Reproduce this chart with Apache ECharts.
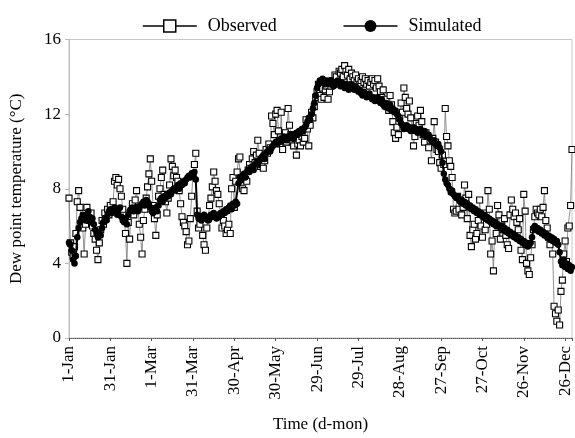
<!DOCTYPE html>
<html>
<head>
<meta charset="utf-8">
<script src="https://cdn.jsdelivr.net/npm/echarts@6/dist/echarts.min.js"></script>
<style>
  html, body { margin: 0; padding: 0; background: #fff; }
  #chart { width: 575px; height: 438px; }
</style>
</head>
<body>
<div id="chart"></div>
<script>
// Daily dew point temperature (°C), day 0 = 1-Jan, 366 days
const tickLabels = ['1-Jan', '31-Jan', '1-Mar', '31-Mar', '30-Apr', '30-May', '29-Jun',
  '29-Jul', '28-Aug', '27-Sep', '27-Oct', '26-Nov', '26-Dec'];

const observed = [
  7.5, 5.1, 4.6, 4.4, 4.9, 5.6, 7.3, 7.9, 7.0, 6.2,
  5.9, 4.5, 6.1, 7.0, 6.6, 6.3, 6.7, 6.0, 5.6, 5.3,
  4.7, 4.2, 5.1, 5.8, 6.3, 6.1, 6.7, 6.4, 6.9, 6.6,
  7.1, 6.8, 7.3, 8.4, 8.6, 8.2, 8.5, 8.0, 7.6, 6.9,
  6.4, 5.6, 4.0, 6.2, 5.3, 6.8, 7.2, 6.6, 7.4, 7.9,
  7.0, 6.1, 5.4, 4.5, 6.3, 6.9, 7.5, 8.1, 8.8, 9.6,
  8.4, 7.1, 6.4, 5.5, 6.6, 7.6, 8.0, 8.6, 9.0, 7.7,
  7.3, 6.7, 7.5, 8.2, 9.6, 9.2, 8.7, 9.0, 8.6, 8.4,
  7.9, 7.2, 6.5, 6.2, 6.0, 5.7, 5.0, 5.2, 6.4, 7.6,
  8.8, 9.3, 9.9, 6.8, 5.9, 6.1, 6.5, 5.5, 5.0, 4.7,
  5.9, 6.4, 7.1, 7.5, 8.1, 8.9, 8.4, 7.9, 7.7, 7.2,
  6.5, 5.9, 6.3, 6.0, 5.6, 5.8, 6.1, 5.6, 8.0, 8.6,
  7.0, 8.4, 8.9, 9.6, 9.7, 8.6, 8.0, 7.9, 8.5, 8.4,
  9.0, 9.3, 9.1, 9.6, 10.0, 9.4, 9.8, 10.6, 9.9, 9.2,
  9.3, 9.1, 9.5, 10.1, 9.9, 10.4, 10.2, 11.9, 11.5, 10.9,
  12.0, 12.2, 11.1, 10.4, 12.1, 10.1, 10.6, 11.0, 10.5, 12.3,
  11.4, 10.9, 10.5, 10.3, 10.7, 9.8, 10.4, 10.6, 10.3, 10.8,
  10.5, 10.7, 11.7, 11.2, 10.3, 11.4, 12.1, 11.8, 12.4, 12.9,
  13.2, 13.6, 13.0, 12.8, 13.4, 12.9, 13.3, 13.5, 12.8, 13.2,
  13.5, 13.8, 13.6, 14.1, 14.0, 13.7, 14.3, 14.2, 14.4, 14.0,
  14.6, 14.3, 14.1, 14.4, 13.9, 14.2, 14.0, 13.8, 14.1, 13.7,
  13.9, 13.6, 13.8, 14.0, 13.7, 13.9, 13.6, 13.8, 13.5, 13.7,
  13.9, 13.6, 13.8, 13.4, 13.9, 13.5, 13.2, 12.9, 13.3, 12.6,
  12.8, 12.4, 12.2, 13.0, 12.5, 11.6, 11.0, 10.7, 11.3, 10.9,
  11.8, 12.6, 12.1, 13.4, 12.9, 12.3, 12.0, 12.7, 11.8, 11.2,
  10.3, 10.8, 11.5, 11.9, 11.4, 12.2, 11.6, 10.9, 10.5, 11.0,
  10.8, 10.2, 10.6, 9.5, 10.7, 11.6, 10.5, 10.1, 10.0, 9.4,
  9.1, 9.8, 9.3, 12.3, 10.8, 10.3, 9.5, 9.2, 8.6, 6.9,
  6.7, 6.8, 7.6, 6.9, 7.4, 6.6, 7.0, 8.2, 7.5, 6.4,
  7.7, 5.5, 4.9, 5.8, 6.1, 5.3, 5.6, 6.3, 7.4, 6.0,
  5.4, 6.7, 5.8, 6.1, 7.9, 6.9, 4.5, 5.2, 3.6, 6.2,
  5.6, 7.1, 6.6, 5.3, 6.0, 5.8, 6.4, 5.5, 5.0, 4.8,
  6.6, 7.4, 6.9, 6.5, 6.7, 6.2, 5.8, 6.4, 4.7, 4.2,
  7.7, 6.8, 4.0, 3.6, 3.4, 4.3, 5.0, 5.8, 6.5, 6.9,
  6.7, 6.6, 6.9, 6.5, 7.0, 7.9, 6.3, 5.9, 5.4, 5.0,
  5.3, 4.5, 1.7, 1.3, 0.9, 1.5, 0.7, 2.5, 3.1, 4.5,
  5.2, 4.1, 5.9, 6.0, 7.1, 10.1
];

const simulated = [
  5.1, 5.0, 4.7, 4.2, 4.0, 4.4, 5.4, 5.9, 6.2, 6.4,
  6.6, 6.5, 6.3, 6.6, 6.8, 6.5, 6.2, 6.4, 6.1, 5.8,
  5.6, 5.4, 5.7, 5.5, 5.9, 6.2, 6.4, 6.3, 6.6, 6.8,
  6.9, 6.7, 6.9, 7.0, 6.8, 6.6, 6.9, 7.0, 6.5, 6.3,
  6.2, 6.4, 6.1, 6.6, 6.8, 6.9, 7.0, 6.8, 6.9, 7.0,
  6.8, 7.0, 7.1, 7.2, 7.3, 7.1, 7.4, 7.3, 7.2, 7.0,
  6.8, 6.7, 6.9, 7.0, 6.8, 7.1, 7.4, 7.5, 7.3, 7.6,
  7.5, 7.7, 7.6, 7.8, 7.7, 7.9, 8.0, 7.9, 8.1, 8.2,
  8.0, 8.3, 8.2, 8.4, 8.3, 8.5, 8.6, 8.7, 8.6, 8.8,
  8.7, 8.9, 8.5, 6.6, 6.4, 6.5, 6.3, 6.5, 6.6, 6.4,
  6.5, 6.3, 6.4, 6.6, 6.5, 6.7, 6.5, 6.4, 6.6, 6.5,
  6.7, 6.6, 6.8, 6.7, 6.9, 6.8, 7.0, 7.1, 6.9, 7.2,
  7.1, 7.3, 7.2, 8.3, 8.6, 8.5, 8.7, 8.8, 8.6, 8.9,
  9.0, 8.9, 9.1, 9.2, 9.0, 9.3, 9.4, 9.3, 9.5, 9.6,
  9.7, 9.8, 9.6, 9.9, 10.0, 10.1, 10.0, 10.2, 10.3, 10.4,
  10.5, 10.4, 10.6, 10.5, 10.7, 10.6, 10.8, 10.7, 10.6, 10.8,
  10.7, 10.9, 10.8, 10.7, 10.9, 11.0, 10.9, 11.1, 11.0, 11.2,
  11.1, 11.3, 11.4, 11.6, 11.8, 11.7, 12.0, 12.3, 12.6, 13.0,
  13.4, 13.6, 13.8, 13.7, 13.9, 13.8, 13.6, 13.8, 13.7, 13.6,
  13.8, 13.7, 13.5, 13.7, 13.6, 13.8, 13.6, 13.5, 13.7, 13.6,
  13.4, 13.6, 13.5, 13.3, 13.5, 13.6, 13.4, 13.3, 13.5, 13.4,
  13.2, 13.3, 13.1, 13.0, 13.2, 13.1, 12.9, 13.0, 13.1, 12.9,
  12.8, 12.9, 12.7, 12.8, 12.9, 12.7, 12.6, 12.8, 12.5, 12.4,
  12.6, 12.4, 12.3, 12.5, 12.2, 12.3, 12.1, 12.2, 12.0, 11.9,
  11.7, 11.5, 11.4, 11.2, 11.3, 11.4, 11.2, 11.3, 11.1, 11.2,
  11.3, 11.1, 11.2, 11.0, 11.1, 11.2, 11.0, 10.9, 11.1, 10.9,
  10.8, 10.9, 10.7, 10.6, 10.5, 10.6, 10.4, 10.3, 10.4, 10.2,
  10.0, 9.4, 8.8, 8.5, 8.3, 8.2, 8.0, 7.8, 7.9, 7.7,
  7.6, 7.5, 7.6, 7.4, 7.3, 7.4, 7.2, 7.3, 7.1, 7.2,
  7.0, 7.1, 6.9, 7.0, 6.8, 6.9, 6.7, 6.8, 6.6, 6.7,
  6.5, 6.6, 6.4, 6.5, 6.3, 6.4, 6.2, 6.3, 6.1, 6.2,
  6.0, 6.1, 6.0, 5.9, 6.0, 5.8, 5.9, 5.7, 5.8, 5.6,
  5.7, 5.5, 5.6, 5.4, 5.5, 5.3, 5.4, 5.2, 5.3, 5.1,
  5.2, 5.0, 5.1, 4.9, 5.0, 5.1, 5.4, 5.9, 6.0, 5.8,
  5.9, 5.7, 5.8, 5.6, 5.7, 5.5, 5.6, 5.4, 5.5, 5.3,
  5.4, 5.2, 5.3, 5.1, 5.2, 5.0, 4.6, 4.1, 3.9, 4.2,
  3.8, 4.0, 3.7, 3.9, 3.6, 3.8
];

const FONT = '"Liberation Serif", "Times New Roman", serif';

const toPairs = arr => arr.map((v, i) => [i, v]);

const chart = echarts.init(document.getElementById('chart'), null, { renderer: 'canvas' });

chart.setOption({
  animation: false,
  backgroundColor: '#fff',
  textStyle: { fontFamily: FONT, color: '#000' },
  legend: {
    left: 137,
    top: 12,
    itemWidth: 54,
    itemHeight: 15,
    itemGap: 66,
    textStyle: { fontFamily: FONT, fontSize: 18, color: '#000', padding: [0, 0, 0, 6] },
    data: [
      { name: 'Observed', lineStyle: { color: '#000', width: 1.5 },
        itemStyle: { color: '#fff', borderColor: '#000', borderWidth: 1.5 } },
      { name: 'Simulated', lineStyle: { color: '#000', width: 1.5 },
        itemStyle: { color: '#000', borderColor: '#000' } }
    ]
  },
  grid: {
    left: 63,
    right: 3,
    top: 39.5,
    bottom: 95.5,
    show: true,
    borderColor: '#c8c8c8',
    borderWidth: 1
  },
  xAxis: {
    type: 'value',
    min: 0,
    max: 365,
    interval: 30,
    name: 'Time (d-mon)',
    nameLocation: 'middle',
    nameGap: 78,
    nameTextStyle: { fontFamily: FONT, fontSize: 17, color: '#000' },
    axisLine: { show: true, lineStyle: { color: '#555', width: 1, type: 'dotted' } },
    axisTick: { show: true, inside: false, length: 3, lineStyle: { color: '#555' } },
    splitLine: { show: false },
    axisLabel: {
      rotate: 90,
      margin: 8,
      fontFamily: FONT,
      fontSize: 17,
      color: '#000',
      formatter: v => (v % 30 === 0 && tickLabels[v / 30]) ? tickLabels[v / 30] : ''
    }
  },
  yAxis: {
    type: 'value',
    min: 0,
    max: 16,
    interval: 4,
    name: 'Dew point temperature (°C)',
    nameLocation: 'middle',
    nameGap: 44,
    nameTextStyle: { fontFamily: FONT, fontSize: 17, color: '#000' },
    axisLine: { show: true, lineStyle: { color: '#bbb', width: 1 } },
    axisTick: { show: true, length: 4, lineStyle: { color: '#bbb' } },
    splitLine: { show: false },
    axisLabel: { fontFamily: FONT, fontSize: 17, color: '#000', margin: 8 }
  },
  series: [
    {
      name: 'Observed',
      type: 'line',
      data: toPairs(observed),
      symbol: 'rect',
      symbolSize: 6,
      showSymbol: true,
      lineStyle: { color: '#777', width: 0.8 },
      itemStyle: { color: '#fff', borderColor: '#000', borderWidth: 1.1 },
      z: 2
    },
    {
      name: 'Simulated',
      type: 'line',
      data: toPairs(simulated),
      symbol: 'circle',
      symbolSize: 6.5,
      showSymbol: true,
      lineStyle: { color: '#000', width: 2 },
      itemStyle: { color: '#000', borderColor: '#000', borderWidth: 0 },
      z: 3
    }
  ]
});
</script>
</body>
</html>
